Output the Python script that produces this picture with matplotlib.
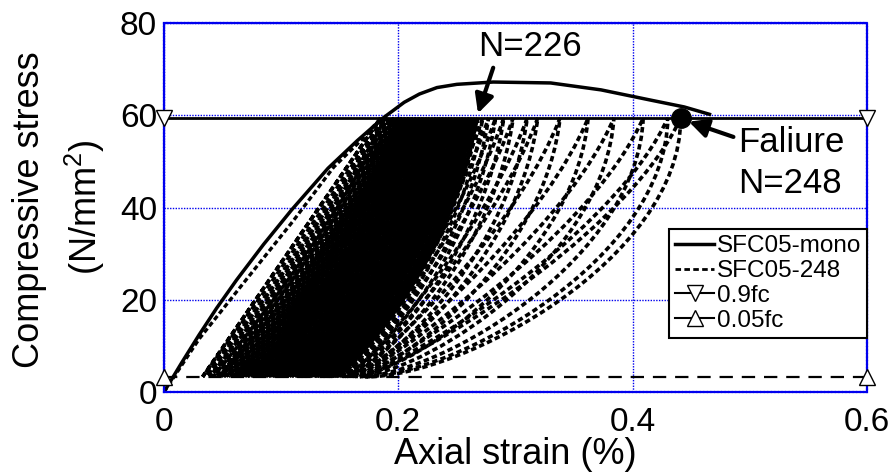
import matplotlib
matplotlib.use("Agg")
import matplotlib.pyplot as plt
from matplotlib.lines import Line2D
from matplotlib.path import Path
from matplotlib.patches import PathPatch

plt.rcParams["font.family"] = ["Liberation Sans", "DejaVu Sans"]
plt.rcParams["mathtext.fontset"] = "custom"
plt.rcParams["mathtext.rm"] = "Liberation Sans"
plt.rcParams["mathtext.default"] = "regular"

# compressive strength and the cyclic stress limits
fc = 66.0
upper_stress = 0.9 * fc
lower_stress = 0.05 * fc

# monotonic test SFC05-mono
mono_strain = [0.0, 0.015, 0.030, 0.045, 0.062, 0.085, 0.109, 0.140, 0.165, 0.187,
               0.205, 0.218, 0.233, 0.250, 0.281, 0.330, 0.373, 0.415, 0.444, 0.467]
mono_stress = [0.0, 6.3, 12.4, 18.2, 24.3, 32.0, 39.5, 48.5, 54.5, 59.4,
               62.8, 64.6, 66.0, 66.7, 67.2, 67.0, 65.5, 63.3, 61.8, 60.1]

# first loading of the cyclic specimen SFC05-248
first_load_strain = [0.0, 0.030, 0.070, 0.110, 0.145, 0.170, 0.185]
first_load_stress = [0.0, 11.5, 24.3, 37.0, 48.8, 55.0, 59.4]

# peak strain at 0.9fc and residual strain at 0.05fc for the recorded cycles
peak_strain = [
    0.185, 0.187, 0.189, 0.191, 0.193, 0.194, 0.196, 0.197, 0.199, 0.200,
    0.201, 0.202, 0.203, 0.204, 0.205, 0.206, 0.207, 0.208, 0.209, 0.210,
    0.211, 0.212, 0.213, 0.214, 0.215, 0.216, 0.217, 0.218, 0.219, 0.220,
    0.221, 0.222, 0.223, 0.224, 0.225, 0.226, 0.227, 0.228, 0.229, 0.230,
    0.231, 0.232, 0.233, 0.234, 0.235, 0.236, 0.237, 0.238, 0.239, 0.240,
    0.241, 0.242, 0.243, 0.244, 0.245, 0.246, 0.247, 0.248, 0.249, 0.250,
    0.251, 0.252, 0.253, 0.254, 0.255, 0.256, 0.257, 0.258, 0.259, 0.260,
    0.261, 0.262, 0.263, 0.264, 0.265, 0.266, 0.267, 0.268,
    0.272, 0.277, 0.283, 0.290, 0.298, 0.310, 0.319, 0.338, 0.362, 0.384,
    0.409, 0.430, 0.441,
]
resid_strain = [
    0.033, 0.036, 0.039, 0.042, 0.045, 0.047, 0.049, 0.051, 0.053, 0.055,
    0.057, 0.059, 0.061, 0.062, 0.064, 0.066, 0.067, 0.069, 0.071, 0.072,
    0.074, 0.075, 0.077, 0.078, 0.080, 0.081, 0.083, 0.084, 0.086, 0.087,
    0.089, 0.090, 0.092, 0.093, 0.094, 0.096, 0.097, 0.099, 0.100, 0.101,
    0.103, 0.104, 0.105, 0.107, 0.108, 0.109, 0.111, 0.112, 0.113, 0.115,
    0.116, 0.117, 0.119, 0.120, 0.121, 0.123, 0.124, 0.125, 0.126, 0.128,
    0.129, 0.130, 0.131, 0.133, 0.134, 0.135, 0.136, 0.138, 0.139, 0.140,
    0.141, 0.142, 0.143, 0.144, 0.145, 0.146, 0.147, 0.148,
    0.150, 0.152, 0.154, 0.156, 0.158, 0.160, 0.161, 0.163, 0.165, 0.167,
    0.169, 0.171, 0.173,
]

marked_cycle = 226
marked_strain = 0.268
fail_cycle = 248
fail_strain = 0.441

x_ticks = [0, 0.2, 0.4, 0.6]
x_tick_labels = ["0", "0.2", "0.4", "0.6"]
y_ticks = [0, 20, 40, 60, 80]

DASH_ON, DASH_OFF = 1.5, 0.9


def _pt(r, p, u, v):
    # normalised loop coordinates -> data coordinates
    return (r + u * (p - r), lower_stress + v * (upper_stress - lower_stress))


def _loop_path(r0, p, r1, k):
    # reloading (upper branch) r0 -> p, unloading (lower branch) p -> r1
    a1 = ((1 - k) / 3 + 0.30 * k, (1 - k) / 3 + 0.15 * k)
    a2 = ((1 - k) * 2 / 3 + 0.85 * k, (1 - k) * 2 / 3 + 0.60 * k)
    b1 = ((1 - k) / 3 + 0.30 * k, (1 - k) / 3)
    b2 = ((1 - k) * 2 / 3 + 1.00 * k, (1 - k) * 2 / 3 + 0.45 * k)
    verts = [
        _pt(r0, p, 0, 0), _pt(r0, p, *a1), _pt(r0, p, *a2), _pt(r0, p, 1, 1),
        _pt(r1, p, *b2), _pt(r1, p, *b1), _pt(r1, p, 0, 0),
    ]
    codes = [Path.MOVETO] + [Path.CURVE4] * 6
    return Path(verts, codes)


fig = plt.figure(figsize=(8.95, 4.73), dpi=100)
ax = fig.add_axes([0.1832, 0.1712, 0.7855, 0.7802])

ax.set_xlim(0, 0.6)
ax.set_ylim(0, 80)
ax.set_xticks(x_ticks)
ax.set_xticklabels(x_tick_labels)
ax.set_yticks(y_ticks)
ax.tick_params(length=0, labelsize=24)
ax.tick_params(axis="x", pad=11)
ax.tick_params(axis="y", pad=5)
ax.grid(True, color="#0000ee", linestyle=(0, (1, 1)), linewidth=1.0)
ax.set_axisbelow(True)
for sp in ax.spines.values():
    sp.set_color("#0000ee")
    sp.set_linestyle((0, (1, 0.6)))
    sp.set_linewidth(1.6)

# cyclic loops; dash phase shifted per loop so gaps do not line up
p0, pn = peak_strain[0], peak_strain[-1]
ax.plot(first_load_strain, first_load_stress, color="k", lw=2.4,
        linestyle=(0, (DASH_ON, DASH_OFF)))
for i, (p, r) in enumerate(zip(peak_strain, resid_strain)):
    k = ((p - p0) / (pn - p0)) ** 0.45
    r0 = resid_strain[i - 1] if i > 0 else r
    offset = (i * 0.9) % (DASH_ON + DASH_OFF)
    ax.add_patch(PathPatch(_loop_path(r0, p, r, k), fill=False, edgecolor="k", lw=2.6,
                           linestyle=(offset, (DASH_ON, DASH_OFF))))

# monotonic curve
ax.plot(mono_strain, mono_stress, color="k", lw=2.5, solid_capstyle="butt")

# stress limits
ax.plot([0, 0.6], [upper_stress, upper_stress], color="k", lw=2.0)
ax.plot([0, 0.6], [upper_stress, upper_stress], linestyle="none", marker="v", ms=12,
        mfc="white", mec="k", mew=1.0, clip_on=False, zorder=5)
ax.plot([0, 0.6], [lower_stress, lower_stress], color="k", lw=1.6, linestyle=(0, (6, 4)))
ax.plot([0, 0.6], [lower_stress, lower_stress], linestyle="none", marker="^", ms=12,
        mfc="white", mec="k", mew=1.0, clip_on=False, zorder=5)

# failure point
ax.plot([fail_strain], [upper_stress], "o", color="k", ms=14, zorder=6)

arrow = dict(arrowstyle="-|>", lw=3.0, color="k", mutation_scale=28, shrinkA=0, shrinkB=0)
ax.annotate("", xy=(marked_strain, upper_stress + 1.0), xytext=(0.281, 70.3), arrowprops=arrow)
ax.text(0.312, 74.8, f"N={marked_cycle}", fontsize=25, ha="center", va="center")
ax.annotate("", xy=(0.448, 58.6), xytext=(0.486, 55.3), arrowprops=arrow)
ax.text(0.490, 54.0, "Faliure", fontsize=25, ha="left", va="center")
ax.text(0.490, 45.3, f"N={fail_cycle}", fontsize=25, ha="left", va="center")

ax.set_xlabel("Axial strain (%)", fontsize=26, labelpad=-1)
fig.text(0.0335, 0.556, "Compressive stress", fontsize=26, rotation=90, ha="center", va="center")
fig.text(0.095, 0.562, "(N/mm$^2$)", fontsize=26, rotation=90, ha="center", va="center")

handles = [
    Line2D([], [], color="k", lw=2.5),
    Line2D([], [], color="k", lw=2.0, linestyle=(0, (2.0, 1.2))),
    Line2D([], [], color="k", lw=1.5, marker="v", ms=12, mfc="white", mec="k", mew=1.0),
    Line2D([], [], color="k", lw=1.5, marker="^", ms=12, mfc="white", mec="k", mew=1.0),
]
labels = ["SFC05-mono", "SFC05-248", "0.9fc", "0.05fc"]
leg = ax.legend(handles, labels, loc="upper right", bbox_to_anchor=(1.0, 0.4417),
                borderaxespad=0, fontsize=17.5, handlelength=1.6, handletextpad=0.1,
                labelspacing=0.12, borderpad=0.25, fancybox=False, framealpha=1)
leg.get_frame().set_edgecolor("k")
leg.get_frame().set_linewidth(1.5)
leg.set_zorder(10)

fig.savefig("out.png", dpi=100)
